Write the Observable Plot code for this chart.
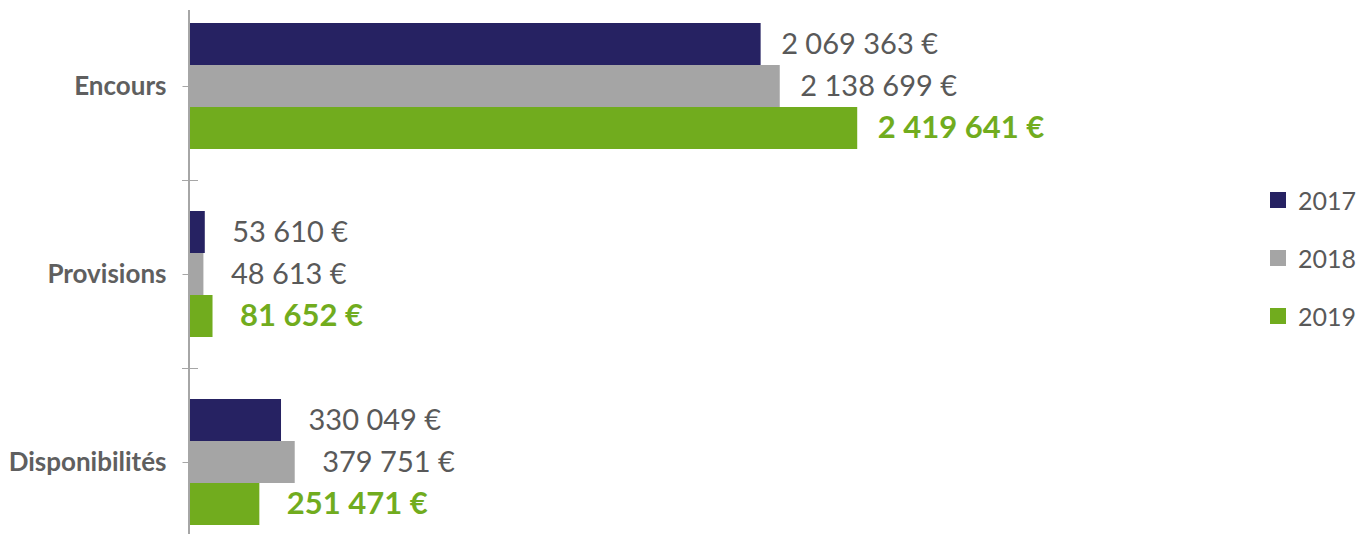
<!DOCTYPE html>
<html><head><meta charset="utf-8">
<script src="https://cdn.jsdelivr.net/npm/d3@7"></script>
<script src="https://cdn.jsdelivr.net/npm/@observablehq/plot@0.6"></script>
<style>
body{margin:0;background:#fff;font-family:Lato,sans-serif}
#wrap{position:relative;width:1362px;height:534px;overflow:hidden}
#legend{position:absolute;left:1270px;top:186px}
.item{display:flex;align-items:center;height:28px;margin-bottom:30px;font-size:25px;color:#595959;font-family:Lato,sans-serif}
.sw{width:16px;height:16px;margin-right:12px}
</style></head><body>
<div id="wrap"><div id="chart"></div><div id="legend"></div></div>
<script>
const categories = ["Encours", "Provisions", "Disponibilités"];
const years = ["2017", "2018", "2019"];
const values2017 = [2069363, 53610, 330049];
const values2018 = [2138699, 48613, 379751];
const values2019 = [2419641, 81652, 251471];
const colors = ["#262262", "#a5a5a5", "#71ac1e"];
const labelGray = "#595959";
const axisGray = "#a6a6a6";

const series = [values2017, values2018, values2019];
const data = categories.flatMap((c, i) => years.map((y, j) => ({category: c, year: y, value: series[j][i]})));
const fmt = d3.formatLocale({decimal: ",", thousands: " ", grouping: [3], currency: ["", " €"]}).format("$,.0f");

const fyRange = [-8, 556];
const step = (fyRange[1] - fyRange[0]) / categories.length;
const axisRows = categories.map(c => ({category: c}));

const chart = Plot.plot({
  width: 1362, height: 534,
  marginLeft: 190, marginRight: 69, marginTop: 10, marginBottom: 0,
  style: {fontFamily: "Lato, sans-serif", background: "white", overflow: "visible"},
  x: {domain: [0, 4000000], axis: null},
  y: {domain: years, paddingInner: 0, paddingOuter: 0.73, axis: null},
  fy: {domain: categories, range: fyRange, paddingInner: 0, paddingOuter: 0},
  color: {domain: years, range: colors},
  marks: [
    Plot.ruleX(axisRows.slice(0, 1), {x: () => 0, fy: "category", stroke: axisGray, strokeWidth: 2, dx: -1.5, insetTop: 18}),
    Plot.ruleX(axisRows.slice(1), {x: () => 0, fy: "category", stroke: axisGray, strokeWidth: 2, dx: -1.5}),
    Plot.axisFy({anchor: "left", text: null, tickSize: 16, dx: 8, dy: step / 2, stroke: axisGray, label: null}),
    Plot.axisFy({anchor: "left", text: null, tickSize: 6, dx: -1.5, stroke: axisGray, label: null}),
    Plot.axisFy({anchor: "left", tickSize: 0, tickPadding: 24, fontSize: 26, fontWeight: "bold", fill: "#5f5f5f", label: null}),
    Plot.barX(data, {x: "value", y: "year", fy: "category", fill: "year"}),
    Plot.text(data.filter(d => d.year !== "2019" && d.category === "Encours"), {x: "value", y: "year", fy: "category", text: d => fmt(d.value), textAnchor: "start", dx: 20, fontSize: 29, fill: labelGray}),
    Plot.text(data.filter(d => d.year !== "2019" && d.category !== "Encours"), {x: "value", y: "year", fy: "category", text: d => fmt(d.value), textAnchor: "start", dx: 27, fontSize: 29, fill: labelGray}),
    Plot.text(data.filter(d => d.year === "2019" && d.category === "Encours"), {x: "value", y: "year", fy: "category", text: d => fmt(d.value), textAnchor: "start", dx: 20, fontSize: 31, fontWeight: "bold", fill: colors[2]}),
    Plot.text(data.filter(d => d.year === "2019" && d.category !== "Encours"), {x: "value", y: "year", fy: "category", text: d => fmt(d.value), textAnchor: "start", dx: 27, fontSize: 31, fontWeight: "bold", fill: colors[2]})
  ]
});
document.getElementById("chart").appendChild(chart);

const legend = d3.select("#legend");
years.forEach((y, j) => {
  const item = legend.append("div").attr("class", "item");
  item.append("div").attr("class", "sw").style("background", colors[j]);
  item.append("span").text(y);
});
</script>
</body></html>
